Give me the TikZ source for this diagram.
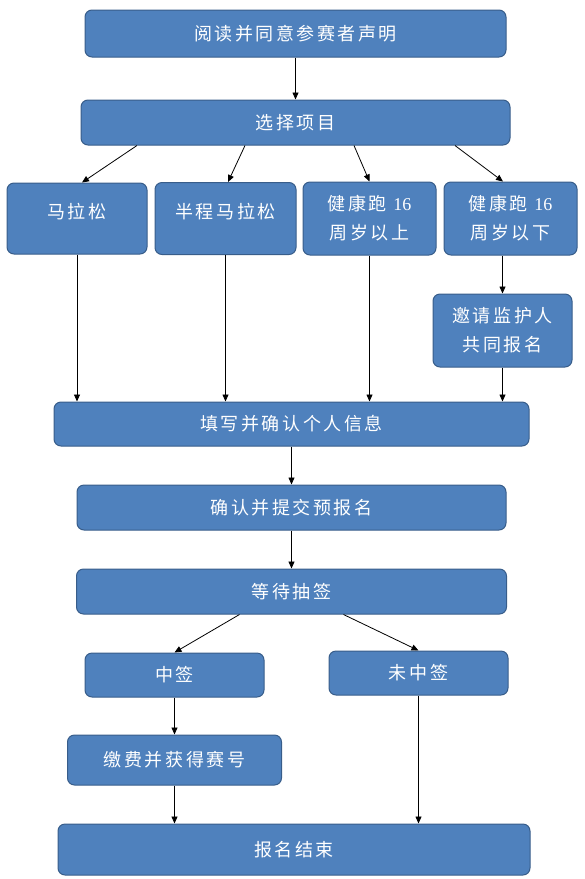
\documentclass[tikz,border=0pt]{standalone}
\usepackage{fontspec}
\usepackage{tikz}
\newfontfamily\cjk[LetterSpace=14]{Noto Sans CJK SC}
\newfontfamily\digits{Liberation Serif}
\usetikzlibrary{arrows.meta, positioning, calc}
\definecolor{stepblue}{HTML}{4F81BD}
\definecolor{stepedge}{HTML}{385D8A}

\begin{document}
\begin{tikzpicture}[x=1pt, y=-1pt, node distance=39pt and 7pt,
  box/.style={draw=stepedge, line width=1pt, rounded corners=7pt, fill=stepblue,
    text=white, align=center, inner sep=0pt, font=\cjk\fontsize{18}{29}\selectfont},
  onerow/.style={text height=13pt, text depth=13pt},
  arrow/.style={-{Triangle[length=7pt, width=6pt]}, line width=0.8pt, draw=black}]
  \useasboundingbox (0,0) rectangle (585,879);
  % main column
  \node[box, minimum width=421pt, minimum height=47pt] (read) at (295.5,33.5) {阅读并同意参赛者声明};
  \node[box, minimum width=429pt, minimum height=45pt, below=42pt of read] (select) {选择项目};
  % the four races
  \node[box, onerow, minimum width=140pt, minimum height=71pt] (mara) at (77,218.5) {马拉松};
  \node[box, onerow, minimum width=141pt, minimum height=72pt, right=7pt of mara] (half) {半程马拉松};
  \node[box, minimum width=133pt, minimum height=73pt, right=6pt of half] (over) {健康跑 {\digits 16}\\周岁以上};
  \node[box, minimum width=133pt, minimum height=73pt, right=7pt of over] (under) {健康跑 {\digits 16}\\周岁以下};
  \node[box, minimum width=139pt, minimum height=73pt] (guard) at (502.5,330.5) {邀请监护人\\共同报名};
  \node[box, minimum width=475pt, minimum height=44pt] (info) at (291.5,424) {填写并确认个人信息};
  \node[box, minimum width=429pt, minimum height=45pt, below=38pt of info] (submit) {确认并提交预报名};
  \node[box, minimum width=430pt, minimum height=45pt, below=38pt of submit] (wait) {等待抽签};
  % lottery result
  \node[box, minimum width=179pt, minimum height=44pt] (win) at (174.5,675) {中签};
  \node[box, minimum width=179pt, minimum height=44pt] (lose) at (418.5,673) {未中签};
  \node[box, minimum width=214pt, minimum height=50pt, below=37pt of win] (pay) {缴费并获得赛号};
  \node[box, minimum width=472pt, minimum height=51pt] (done) at (294,849.5) {报名结束};

  \draw[arrow] (read) -- (select);
  \draw[arrow] ($(select.south)+(-158.5,0)$) -- ($(mara.north)+(5,0)$);
  \draw[arrow] ($(select.south)+(-50.5,0)$) -- ($(half.north)+(2.5,0)$);
  \draw[arrow] ($(select.south)+(58.5,0)$) -- (over.north);
  \draw[arrow] ($(select.south)+(159.5,0)$) -- ($(under.north)+(-7.5,0)$);
  \draw[arrow] (mara.south) -- (mara |- info.north);
  \draw[arrow] (half.south) -- (half |- info.north);
  \draw[arrow] (over.south) -- (over |- info.north);
  \draw[arrow] (under.south -| guard) -- (guard.north);
  \draw[arrow] (guard.south) -- (guard |- info.north);
  \draw[arrow] (info) -- (submit);
  \draw[arrow] (submit) -- (wait);
  \draw[arrow] ($(wait.south)+(-52,0)$) -- (win.north);
  \draw[arrow] ($(wait.south)+(52,0)$) -- (lose.north);
  \draw[arrow] (win) -- (pay);
  \draw[arrow] (pay.south) -- (pay |- done.north);
  \draw[arrow] (lose.south) -- (lose |- done.north);
\end{tikzpicture}
\end{document}
